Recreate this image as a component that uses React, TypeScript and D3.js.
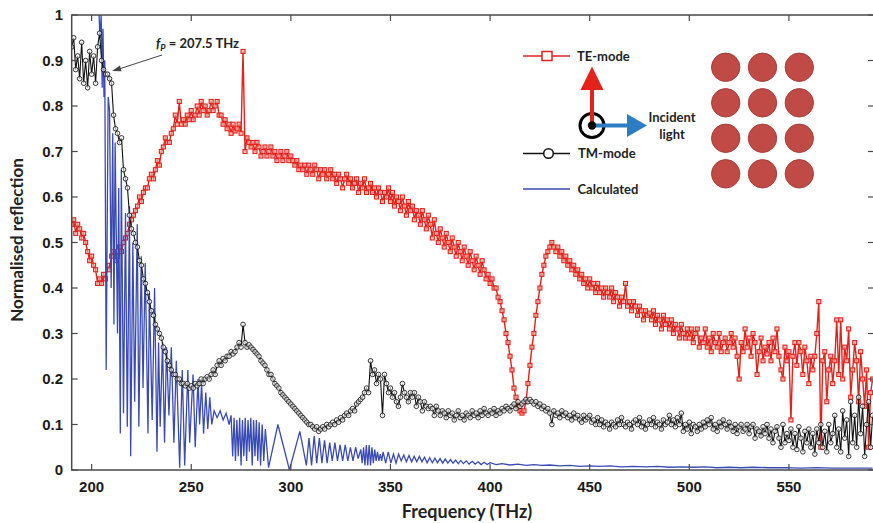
import React from 'react';
import * as d3 from 'd3';

const W = 873;
const H = 523;

// frequency grid of the measured spectra (THz)
const measStart = 190;
const measStep = 1;

// TM-mode measured reflection, 190..592 THz
const tmMode = [
  0.93, 0.95, 0.88, 0.91, 0.86, 0.94, 0.85, 0.90, 0.84, 0.92,
  0.87, 0.91, 0.85, 0.93, 0.96, 0.90, 0.88, 0.87, 0.87, 0.86,
  0.85, 0.78, 0.75, 0.74, 0.72, 0.73, 0.66, 0.64, 0.62, 0.56,
  0.53, 0.52, 0.50, 0.49, 0.46, 0.45, 0.42, 0.41, 0.39, 0.37,
  0.35, 0.34, 0.32, 0.31, 0.30, 0.29, 0.27, 0.26, 0.24, 0.23,
  0.22, 0.21, 0.21, 0.20, 0.20, 0.19, 0.19, 0.185, 0.19, 0.18,
  0.185, 0.18, 0.19, 0.185, 0.19, 0.20, 0.19, 0.20, 0.205, 0.20,
  0.21, 0.22, 0.21, 0.23, 0.24, 0.23, 0.245, 0.24, 0.25, 0.25,
  0.26, 0.255, 0.26, 0.27, 0.28, 0.27, 0.32, 0.28, 0.27, 0.275,
  0.27, 0.265, 0.26, 0.255, 0.25, 0.24, 0.235, 0.23, 0.22, 0.21,
  0.21, 0.20, 0.19, 0.185, 0.18, 0.17, 0.165, 0.16, 0.155, 0.15,
  0.145, 0.14, 0.135, 0.13, 0.125, 0.12, 0.115, 0.11, 0.105, 0.10,
  0.10, 0.095, 0.09, 0.095, 0.085, 0.09, 0.095, 0.09, 0.10, 0.095,
  0.10, 0.105, 0.10, 0.11, 0.105, 0.115, 0.11, 0.12, 0.125, 0.12,
  0.13, 0.135, 0.13, 0.145, 0.15, 0.155, 0.16, 0.17, 0.18, 0.17,
  0.24, 0.21, 0.22, 0.19, 0.21, 0.20, 0.12, 0.21, 0.19, 0.17,
  0.18, 0.16, 0.17, 0.15, 0.14, 0.16, 0.19, 0.17, 0.16, 0.15,
  0.17, 0.16, 0.17, 0.14, 0.16, 0.15, 0.13, 0.15, 0.14, 0.135,
  0.14, 0.135, 0.12, 0.14, 0.13, 0.12, 0.13, 0.125, 0.115, 0.13,
  0.12, 0.125, 0.11, 0.12, 0.13, 0.115, 0.12, 0.11, 0.125, 0.12,
  0.115, 0.13, 0.12, 0.125, 0.115, 0.13, 0.12, 0.135, 0.125, 0.12,
  0.13, 0.125, 0.135, 0.12, 0.13, 0.125, 0.135, 0.13, 0.14, 0.135,
  0.13, 0.14, 0.145, 0.135, 0.15, 0.14, 0.145, 0.15, 0.155, 0.15,
  0.155, 0.15, 0.145, 0.15, 0.14, 0.145, 0.135, 0.14, 0.13, 0.135,
  0.125, 0.10, 0.13, 0.12, 0.125, 0.115, 0.13, 0.12, 0.125, 0.115,
  0.12, 0.11, 0.125, 0.115, 0.12, 0.11, 0.105, 0.12, 0.11, 0.115,
  0.12, 0.105, 0.11, 0.10, 0.115, 0.10, 0.11, 0.095, 0.105, 0.10,
  0.09, 0.105, 0.10, 0.095, 0.11, 0.10, 0.115, 0.10, 0.095, 0.105,
  0.10, 0.09, 0.105, 0.11, 0.10, 0.115, 0.095, 0.105, 0.09, 0.10,
  0.11, 0.10, 0.115, 0.095, 0.105, 0.10, 0.09, 0.11, 0.10, 0.105,
  0.12, 0.10, 0.11, 0.095, 0.115, 0.10, 0.125, 0.085, 0.10, 0.09,
  0.105, 0.08, 0.10, 0.095, 0.085, 0.10, 0.09, 0.105, 0.095, 0.11,
  0.10, 0.115, 0.09, 0.10, 0.085, 0.105, 0.095, 0.11, 0.10, 0.09,
  0.105, 0.095, 0.085, 0.10, 0.08, 0.095, 0.10, 0.085, 0.09, 0.10,
  0.08, 0.095, 0.10, 0.07, 0.09, 0.085, 0.075, 0.095, 0.08, 0.10,
  0.07, 0.09, 0.06, 0.085, 0.095, 0.07, 0.05, 0.10, 0.06, 0.08,
  0.065, 0.09, 0.05, 0.08, 0.045, 0.095, 0.07, 0.04, 0.085, 0.06,
  0.09, 0.05, 0.08, 0.035, 0.09, 0.06, 0.10, 0.05, 0.085, 0.04,
  0.10, 0.06, 0.08, 0.12, 0.05, 0.09, 0.04, 0.13, 0.07, 0.11,
  0.03, 0.15, 0.06, 0.12, 0.05, 0.16, 0.08, 0.14, 0.03, 0.10,
  0.15, 0.05, 0.12,
];

// TE-mode measured reflection, 190..592 THz
const teMode = [
  0.54, 0.55, 0.52, 0.54, 0.53, 0.51, 0.52, 0.50, 0.48, 0.46,
  0.47, 0.45, 0.44, 0.41, 0.42, 0.41, 0.43, 0.42, 0.45, 0.44,
  0.47, 0.48, 0.46, 0.47, 0.49, 0.48, 0.50, 0.51, 0.52, 0.54,
  0.55, 0.56, 0.57, 0.58, 0.60, 0.59, 0.61, 0.62, 0.62, 0.64,
  0.65, 0.64, 0.66, 0.68, 0.67, 0.70, 0.71, 0.73, 0.72, 0.72,
  0.74, 0.75, 0.78, 0.76, 0.81, 0.76, 0.77, 0.76, 0.78, 0.77,
  0.79, 0.77, 0.78, 0.80, 0.78, 0.81, 0.79, 0.80, 0.78, 0.79,
  0.81, 0.79, 0.80, 0.81, 0.78, 0.78, 0.76, 0.77, 0.75, 0.76,
  0.74, 0.76, 0.745, 0.75, 0.76, 0.74, 0.92, 0.70, 0.73, 0.72,
  0.71, 0.72, 0.70, 0.72, 0.71, 0.69, 0.70, 0.71, 0.69, 0.70,
  0.71, 0.69, 0.70, 0.68, 0.69, 0.70, 0.68, 0.69, 0.70, 0.68,
  0.69, 0.68, 0.67, 0.68, 0.66, 0.67, 0.66, 0.67, 0.65, 0.67,
  0.66, 0.65, 0.67, 0.66, 0.64, 0.66, 0.65, 0.66, 0.64, 0.65,
  0.66, 0.64, 0.65, 0.63, 0.65, 0.64, 0.62, 0.64, 0.65, 0.63,
  0.64, 0.62, 0.63, 0.64, 0.61, 0.63, 0.62, 0.64, 0.61, 0.62,
  0.63, 0.61, 0.62, 0.60, 0.62, 0.61, 0.59, 0.61, 0.60, 0.62,
  0.59, 0.61, 0.58, 0.60, 0.59, 0.57, 0.60, 0.58, 0.56, 0.59,
  0.57, 0.58, 0.55, 0.57, 0.56, 0.54, 0.57, 0.55, 0.53, 0.56,
  0.54, 0.51, 0.55, 0.52, 0.50, 0.53, 0.51, 0.49, 0.52, 0.50,
  0.48, 0.51, 0.49, 0.47, 0.50, 0.48, 0.46, 0.49, 0.47, 0.45,
  0.48, 0.46, 0.44, 0.47, 0.45, 0.43, 0.46, 0.44, 0.42, 0.43,
  0.41, 0.42, 0.40, 0.40, 0.38, 0.37, 0.35, 0.33, 0.30, 0.28,
  0.25, 0.22, 0.18, 0.16, 0.14, 0.13, 0.125, 0.13, 0.15, 0.19,
  0.23, 0.27, 0.30, 0.34, 0.37, 0.40, 0.43, 0.45, 0.47, 0.48,
  0.49, 0.50, 0.49, 0.48, 0.49, 0.47, 0.48, 0.46, 0.47, 0.45,
  0.46, 0.44, 0.45, 0.43, 0.44, 0.42, 0.43, 0.41, 0.42, 0.40,
  0.42, 0.40, 0.41, 0.39, 0.41, 0.39, 0.40, 0.38, 0.40, 0.39,
  0.38, 0.40, 0.37, 0.39, 0.38, 0.36, 0.38, 0.37, 0.41, 0.36,
  0.37, 0.35, 0.37, 0.36, 0.34, 0.36, 0.35, 0.33, 0.35, 0.34,
  0.345, 0.33, 0.35, 0.32, 0.34, 0.33, 0.31, 0.34, 0.32, 0.33,
  0.31, 0.33, 0.30, 0.32, 0.31, 0.29, 0.32, 0.30, 0.29, 0.31,
  0.29, 0.31, 0.28, 0.30, 0.31, 0.27, 0.29, 0.28, 0.31, 0.27,
  0.29, 0.26, 0.30, 0.28, 0.27, 0.30, 0.26, 0.28, 0.29, 0.26,
  0.28, 0.30, 0.27, 0.29, 0.25, 0.20, 0.28, 0.26, 0.31, 0.27,
  0.29, 0.25, 0.30, 0.28, 0.21, 0.26, 0.29, 0.24, 0.27, 0.255,
  0.28, 0.24, 0.29, 0.26, 0.31, 0.25, 0.22, 0.20, 0.27, 0.24,
  0.26, 0.11, 0.25, 0.28, 0.23, 0.28, 0.26, 0.21, 0.27, 0.24,
  0.19, 0.25, 0.22, 0.25, 0.30, 0.37, 0.05, 0.24, 0.26, 0.15,
  0.22, 0.25, 0.19, 0.24, 0.33, 0.21, 0.33, 0.20, 0.27, 0.24,
  0.31, 0.16, 0.22, 0.28, 0.24, 0.15, 0.26, 0.20, 0.14, 0.22,
  0.05, 0.17, 0.20,
];

// calculated reflection, [frequency, value] read at the turning points
const calculated: [number, number][] = [
  [202.8, 1.1], [204.2, 0.95], [204.8, 1.0], [205.3, 0.84], [205.7, 0.97], [206.2, 0.82],
  [206.6, 0.9], [207.3, 0.22],
  [208.3, 0.82], [209.0, 0.79], [209.8, 0.4], [210.6, 0.74], [211.2, 0.32], [211.8, 0.72],
  [213.0, 0.3], [213.6, 0.62], [214.4, 0.08], [214.9, 0.66], [216.0, 0.125], [217.0, 0.565],
  [217.9, 0.095], [219.0, 0.58], [219.6, 0.03], [220.7, 0.5], [221.6, 0.15], [222.9, 0.54],
  [223.7, 0.095], [224.9, 0.47], [225.8, 0.18], [226.9, 0.455], [228.3, 0.08], [229.0, 0.39],
  [230.4, 0.11], [231.6, 0.40], [232.8, 0.04], [233.6, 0.28], [234.4, 0.095], [235.6, 0.28],
  [236.6, 0.06], [237.6, 0.27], [238.8, 0.12], [240.0, 0.27], [241.3, 0.06], [242.5, 0.24],
  [244.2, 0.005], [245.5, 0.22], [246.7, 0.01], [248.3, 0.22], [249.2, 0.06], [250.9, 0.21],
  [252.0, 0.05], [253.4, 0.20], [254.2, 0.10], [255.2, 0.19], [256.2, 0.08], [257.3, 0.17],
  [258.3, 0.09], [259.3, 0.16], [260.3, 0.1], [261.5, 0.13], [263.0, 0.115], [264.5, 0.13],
  [266.0, 0.11], [267.5, 0.125], [269.0, 0.10], [270.0, 0.12],
  [270.8, 0.03], [271.5, 0.115], [272.2, 0.02], [272.9, 0.11], [273.6, 0.03], [274.3, 0.115],
  [275.0, 0.01], [275.7, 0.11], [276.4, 0.03], [277.1, 0.115], [277.8, 0.02], [278.5, 0.11],
  [279.2, 0.04], [279.9, 0.115], [280.6, 0.01], [281.3, 0.11], [282.0, 0.03], [282.7, 0.11],
  [283.4, 0.02], [284.1, 0.105], [284.8, 0.01], [285.6, 0.10], [286.4, 0.02], [287.2, 0.09],
  [288.8, 0.005], [293.5, 0.1], [299.3, 0.0], [304.5, 0.085], [307.8, 0.01],
  [309.1, 0.07], [310.4, 0.01], [311.7, 0.075], [313.0, 0.015], [314.3, 0.07], [315.6, 0.015],
  [316.9, 0.065], [318.2, 0.015], [319.5, 0.06], [320.8, 0.02], [322.1, 0.06], [323.4, 0.02],
  [324.7, 0.055], [326.0, 0.02], [327.3, 0.055], [328.6, 0.02], [329.9, 0.05], [331.2, 0.02],
  [332.5, 0.05], [333.8, 0.025], [335.1, 0.045],
  [335.8, 0.015], [336.5, 0.05], [337.2, 0.01], [337.9, 0.055], [338.6, 0.01], [339.3, 0.055],
  [340.0, 0.01], [340.7, 0.05], [341.4, 0.015], [342.1, 0.045], [342.8, 0.02], [343.5, 0.04],
  [344.2, 0.02], [344.9, 0.035], [345.6, 0.02], [346.3, 0.04],
  [347.6, 0.015], [348.9, 0.04], [350.2, 0.015], [351.5, 0.035], [352.8, 0.015], [354.1, 0.035],
  [355.4, 0.02], [356.7, 0.033], [358.0, 0.018], [359.3, 0.032], [360.6, 0.018], [361.9, 0.03],
  [363.2, 0.018], [364.5, 0.03], [365.8, 0.018], [367.1, 0.028], [368.4, 0.016], [369.7, 0.027],
  [371.0, 0.016], [372.3, 0.026], [373.6, 0.016], [374.9, 0.025], [376.2, 0.015], [377.5, 0.024],
  [378.8, 0.015], [380.1, 0.023], [381.4, 0.015], [382.7, 0.022], [384.0, 0.014], [385.3, 0.021],
  [386.6, 0.014], [388.0, 0.02], [389.5, 0.013], [391.0, 0.019], [392.5, 0.013], [394.0, 0.018],
  [395.5, 0.012], [397.0, 0.017], [398.5, 0.012], [400.0, 0.016],
  [403, 0.012], [406, 0.014], [410, 0.011], [414, 0.013], [418, 0.010], [422, 0.012],
  [426, 0.010], [430, 0.011], [435, 0.009], [440, 0.010], [445, 0.008], [450, 0.009],
  [455, 0.008], [460, 0.009], [466, 0.007], [472, 0.008], [478, 0.007], [484, 0.008],
  [490, 0.006], [496, 0.007], [502, 0.006], [508, 0.007], [514, 0.005], [520, 0.006],
  [526, 0.005], [532, 0.006], [540, 0.005], [548, 0.005], [556, 0.004], [564, 0.005],
  [572, 0.004], [580, 0.004], [592, 0.004],
];

const xTicks = [200, 250, 300, 350, 400, 450, 500, 550];
const yTicks = [0, 0.1, 0.2, 0.3, 0.4, 0.5, 0.6, 0.7, 0.8, 0.9, 1];
const yTickLabels = ['0', '0.1', '0.2', '0.3', '0.4', '0.5', '0.6', '0.7', '0.8', '0.9', '1'];

const RED = '#e3221b';
const BLUE = '#3a4ab4';
const AXIS = '#4a4a4a';
const tickFont = '"Liberation Sans Narrow", "Arial Narrow", sans-serif';
const labelFont = 'Lato, "Open Sans", sans-serif';

export default function App() {
  const left = 71.7;
  const right = 874;
  const top = 15;
  const bottom = 470;

  const x = d3.scaleLinear().domain([190, 592.7]).range([left, right]);
  const y = d3.scaleLinear().domain([0, 1]).range([bottom, top]);

  const measured = (vals: number[]) =>
    vals.map((v, i) => [measStart + i * measStep, v] as [number, number]);
  const tm = measured(tmMode);
  const te = measured(teMode);

  const line = d3.line<[number, number]>()
    .x(d => x(d[0]))
    .y(d => y(d[1]));

  const circles = [0, 1, 2].flatMap(c => [0, 1, 2, 3].map(r => ({ c, r })));

  return (
    <svg width={W} height={H} style={{ position: 'absolute', left: 0, top: 0, background: '#fff' }}>
      <defs>
        <clipPath id="plot">
          <rect x={left} y={top} width={right - left} height={bottom - top} />
        </clipPath>
      </defs>

      <g clipPath="url(#plot)">
        {/* TE-mode */}
        <path d={line(te) ?? ''} fill="none" stroke={RED} strokeWidth={1.4} />
        {te.map((d, i) => (
          <rect key={i} x={x(d[0]) - 2} y={y(d[1]) - 2} width={4} height={4}
            fill="#f6b3ae" fillOpacity={0.7} stroke={RED} strokeWidth={1.1} />
        ))}

        {/* Calculated */}
        <path d={line(calculated) ?? ''} fill="none" stroke={BLUE} strokeWidth={1.3} />

        {/* TM-mode */}
        <path d={line(tm) ?? ''} fill="none" stroke="#111" strokeWidth={1.1} />
        {tm.map((d, i) => (
          <circle key={i} cx={x(d[0])} cy={y(d[1])} r={2.3}
            fill="#fff" fillOpacity={0.6} stroke="#111" strokeWidth={0.85} />
        ))}
      </g>

      {/* frame */}
      <rect x={left} y={top} width={right - left} height={bottom - top}
        fill="none" stroke={AXIS} strokeWidth={1.5} />

      {xTicks.map(t => (
        <g key={t}>
          <line x1={x(t)} x2={x(t)} y1={bottom} y2={bottom - 6} stroke={AXIS} strokeWidth={1.2} />
          <line x1={x(t)} x2={x(t)} y1={top} y2={top + 6} stroke={AXIS} strokeWidth={1.2} />
          <text x={x(t)} y={492} textAnchor="middle" fontFamily={tickFont}
            fontWeight="bold" fontSize={15} fill="#1a1a1a">{t}</text>
        </g>
      ))}

      {yTicks.map((t, i) => (
        <g key={t}>
          <line x1={left} x2={left + 6} y1={y(t)} y2={y(t)} stroke={AXIS} strokeWidth={1.2} />
          <line x1={right} x2={right - 6} y1={y(t)} y2={y(t)} stroke={AXIS} strokeWidth={1.2} />
          <text x={63} y={y(t)} dy="0.36em" textAnchor="end" fontFamily={tickFont}
            fontWeight="bold" fontSize={15} fill="#1a1a1a">{yTickLabels[i]}</text>
        </g>
      ))}

      <text x={467} y={518} textAnchor="middle" fontFamily={labelFont}
        fontWeight="bold" fontSize={18} fill="#222">Frequency (THz)</text>
      <text transform="translate(23,240) rotate(-90)" textAnchor="middle" fontFamily={labelFont}
        fontWeight="bold" fontSize={17} fill="#222">Normalised reflection</text>

      {/* plasma frequency annotation */}
      <text x={156} y={48} fontFamily={labelFont} fontWeight="bold" fontSize={13} fill="#222">
        <tspan fontStyle="italic">f</tspan>
        <tspan fontStyle="italic" fontSize={9} dy={3}>P</tspan>
        <tspan dy={-3}> = 207.5 THz</tspan>
      </text>
      <line x1={162} y1={55} x2={119} y2={69} stroke="#444" strokeWidth={1} />
      <path d="M112,71 L120,65.5 L121.5,71.2 Z" fill="#444" />

      {/* legend */}
      <line x1={523} x2={570} y1={56} y2={56} stroke={RED} strokeWidth={1.5} />
      <rect x={542} y={51.5} width={10} height={9} fill="#fff" stroke={RED} strokeWidth={1.5} />
      <text x={577} y={60.5} fontFamily={labelFont} fontWeight="bold" fontSize={13} fill="#222">TE-mode</text>

      <line x1={523} x2={570} y1={153.5} y2={153.5} stroke="#111" strokeWidth={1.5} />
      <circle cx={548.5} cy={153.5} r={4.8} fill="#fff" stroke="#111" strokeWidth={1.5} />
      <text x={578} y={158} fontFamily={labelFont} fontWeight="bold" fontSize={13} fill="#222">TM-mode</text>

      <line x1={523} x2={570} y1={189} y2={189} stroke={BLUE} strokeWidth={1.5} />
      <text x={577.5} y={193.5} fontFamily={labelFont} fontWeight="bold" fontSize={13} fill="#222">Calculated</text>

      {/* polarisation sketch */}
      <circle cx={592} cy={125.5} r={12} fill="#fff" stroke="#000" strokeWidth={3} />
      <line x1={592} x2={592} y1={125.5} y2={89} stroke={RED} strokeWidth={4} />
      <path d="M580.5,90 L592,66.5 L603.5,90 Z" fill={RED} />
      <line x1={592} x2={628} y1={125.5} y2={125.5} stroke="#2e7cc2" strokeWidth={4} />
      <path d="M627,114 L647,125.5 L627,137 Z" fill="#2e7cc2" />
      <circle cx={592} cy={125.5} r={4.2} fill="#000" />
      <text x={672} y={121.5} textAnchor="middle" fontFamily={labelFont} fontWeight="bold" fontSize={13} fill="#222">Incident</text>
      <text x={672} y={138.5} textAnchor="middle" fontFamily={labelFont} fontWeight="bold" fontSize={13} fill="#222">light</text>

      {circles.map(({ c, r }) => (
        <circle key={`${c}-${r}`} cx={725.7 + c * 36.8} cy={67.3 + r * 35.5} r={14.2}
          fill="#bf4a46" stroke="#a83d3a" strokeWidth={1} />
      ))}
    </svg>
  );
}
